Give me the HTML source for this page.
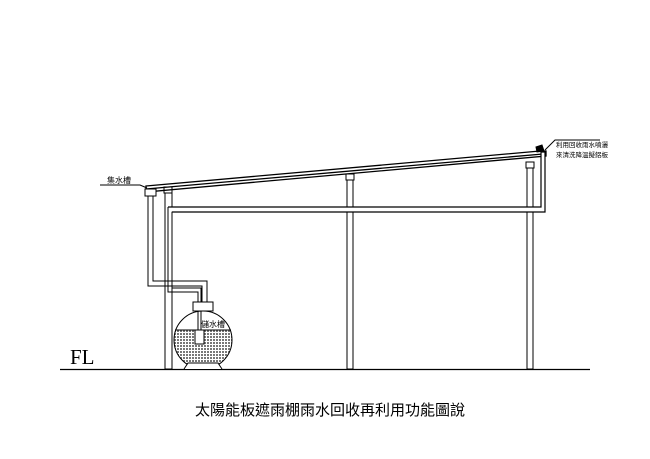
<!DOCTYPE html>
<html><head><meta charset="utf-8"><style>
html,body{margin:0;padding:0;background:#fff;}
svg{display:block;}
text{font-family:"Liberation Sans","Noto Sans CJK TC",sans-serif;fill:#000;}
</style></head><body>
<svg width="650" height="459" viewBox="0 0 650 459" xmlns="http://www.w3.org/2000/svg">
<defs>
<pattern id="dots" width="3" height="3" patternUnits="userSpaceOnUse">
<rect width="3" height="3" fill="#fff"/><rect width="2" height="2" fill="#777"/>
</pattern>
<clipPath id="tc"><circle cx="203" cy="340" r="29"/></clipPath>
</defs>
<g stroke="#000" fill="none" stroke-width="1">
<line x1="60" y1="369.5" x2="590" y2="369.5" stroke-width="1.2"/>
<polygon points="146,186 540,151 546,151 546,156 146,192" fill="#fff" stroke-width="1.3"/>
<line x1="146" y1="189" x2="543" y2="154" stroke-width="1.3"/>
<polygon points="536,147 542,145 544,151 537,152" fill="#000"/>
<rect x="165" y="193" width="7" height="176" fill="#fff"/>
<rect x="347" y="180" width="6" height="189" fill="#fff"/>
<rect x="346" y="174" width="8" height="6"/>
<rect x="527" y="168" width="6" height="201" fill="#fff"/>
<rect x="526" y="162" width="8" height="6"/>
<rect x="164" y="187" width="8" height="6"/>
<path d="M168,207 H541 V152 H545 V212 H172" fill="#fff" stroke-width="1.2"/>
<path d="M168,207 V292 H198 V330 M172,212 V288 H201 V330"/>
<rect x="145" y="189" width="11" height="7" fill="#fff"/>
<path d="M148,196 V286 H202 V303 M153,196 V281 H207 V303"/>
<rect x="193" y="302" width="20" height="9" fill="#fff"/>
<rect x="174" y="330" width="58" height="40" fill="url(#dots)" stroke="none" clip-path="url(#tc)"/>
<circle cx="203" cy="340" r="29"/>
<line x1="175" y1="330" x2="231" y2="330"/>
<rect x="195" y="330" width="9" height="14" fill="#fff"/>
<path d="M184,369 L188,363 H218 L222,369" fill="#fff"/>
<path d="M100,185 H140 L147,188"/>
<path d="M545,150 L555,140 H600"/>
</g>
<text x="107" y="183" font-size="8">集水槽</text>
<text x="201" y="327" font-size="8">儲水槽</text>
<text x="556" y="147" font-size="6.5">利用回收雨水噴灑</text>
<text x="556" y="157" font-size="6.5">來清洗降溫擬鋁板</text>
<text x="70" y="364" font-size="21" style="font-family:'Liberation Serif',serif">FL</text>
<text x="330" y="415" font-size="15" text-anchor="middle">太陽能板遮雨棚雨水回收再利用功能圖說</text>
</svg>
</body></html>
